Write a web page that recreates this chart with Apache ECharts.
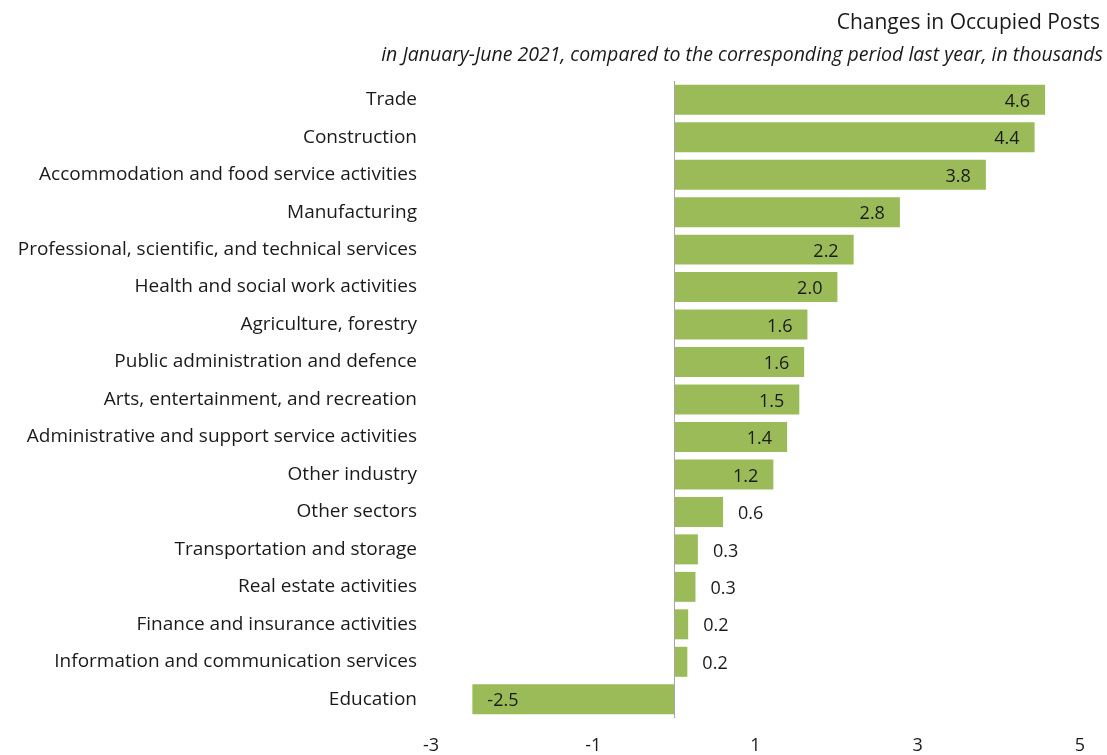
<!DOCTYPE html>
<html>
<head>
<meta charset="utf-8">
<script src="https://cdn.jsdelivr.net/npm/echarts@6/dist/echarts.min.js"></script>
<style>html,body{margin:0;padding:0;background:#fff}#c{width:1107px;height:755px}</style>
</head>
<body>
<div id="c"></div>
<script>
const categories = [
  "Trade",
  "Construction",
  "Accommodation and food service activities",
  "Manufacturing",
  "Professional, scientific, and technical services",
  "Health and social work activities",
  "Agriculture, forestry",
  "Public administration and defence",
  "Arts, entertainment, and recreation",
  "Administrative and support service activities",
  "Other industry",
  "Other sectors",
  "Transportation and storage",
  "Real estate activities",
  "Finance and insurance activities",
  "Information and communication services",
  "Education"
];
const values = [4.57, 4.44, 3.84, 2.78, 2.21, 2.01, 1.64, 1.60, 1.54, 1.39, 1.22, 0.60, 0.29, 0.26, 0.17, 0.16, -2.49];
const tickLabels = [-3, -1, 1, 3, 5];
const titleText = "Changes in Occupied Posts";
const subtitleText = "in January-June 2021, compared to the corresponding period last year, in thousands";

const FONT = "Open Sans";
const chart = echarts.init(document.getElementById('c'), null, {renderer: 'canvas'});

const data = values.map(v => {
  let pos = 'insideRight';
  if (v < 0) pos = 'insideLeft';
  else if (v < 1) pos = 'right';
  return {value: v, label: {position: pos}};
});

chart.setOption({
  animation: false,
  backgroundColor: '#ffffff',
  title: [
    {text: titleText, right: 7, top: 13, padding: 0, textStyle: {fontFamily: FONT, fontSize: 21, fontWeight: 'normal', color: '#1a1a1a'}},
    {text: subtitleText, right: 4, top: 45, padding: 0, textStyle: {fontFamily: FONT, fontSize: 19.5, fontStyle: 'italic', fontWeight: 'normal', color: '#1a1a1a'}}
  ],
  grid: {left: 431, right: 27, top: 81, bottom: 37, containLabel: false},
  xAxis: {
    type: 'value', min: -3, max: 5, interval: 1,
    axisLine: {show: false}, axisTick: {show: false}, splitLine: {show: false},
    axisLabel: {
      margin: 19, fontFamily: FONT, fontSize: 18, color: '#1a1a1a',
      formatter: v => tickLabels.indexOf(v) >= 0 ? String(v) : ''
    }
  },
  yAxis: {
    type: 'category', data: categories, inverse: true,
    axisLine: {show: false, onZero: false}, axisTick: {show: false},
    axisLabel: {margin: 14, fontFamily: FONT, fontSize: 19, color: '#1a1a1a'}
  },
  series: [{
    type: 'bar', data: data, barCategoryGap: '20%',
    itemStyle: {color: '#9BBB59'},
    label: {show: true, fontFamily: FONT, fontSize: 18, color: '#1a1a1a', distance: 15, offset: [0, 2],
      formatter: p => p.value.toFixed(1)},
    markLine: {
      silent: true, symbol: 'none', label: {show: false},
      lineStyle: {color: '#a6a6a6', width: 1, type: 'solid'},
      data: [{xAxis: 0}]
    }
  }]
});
</script>
</body>
</html>
